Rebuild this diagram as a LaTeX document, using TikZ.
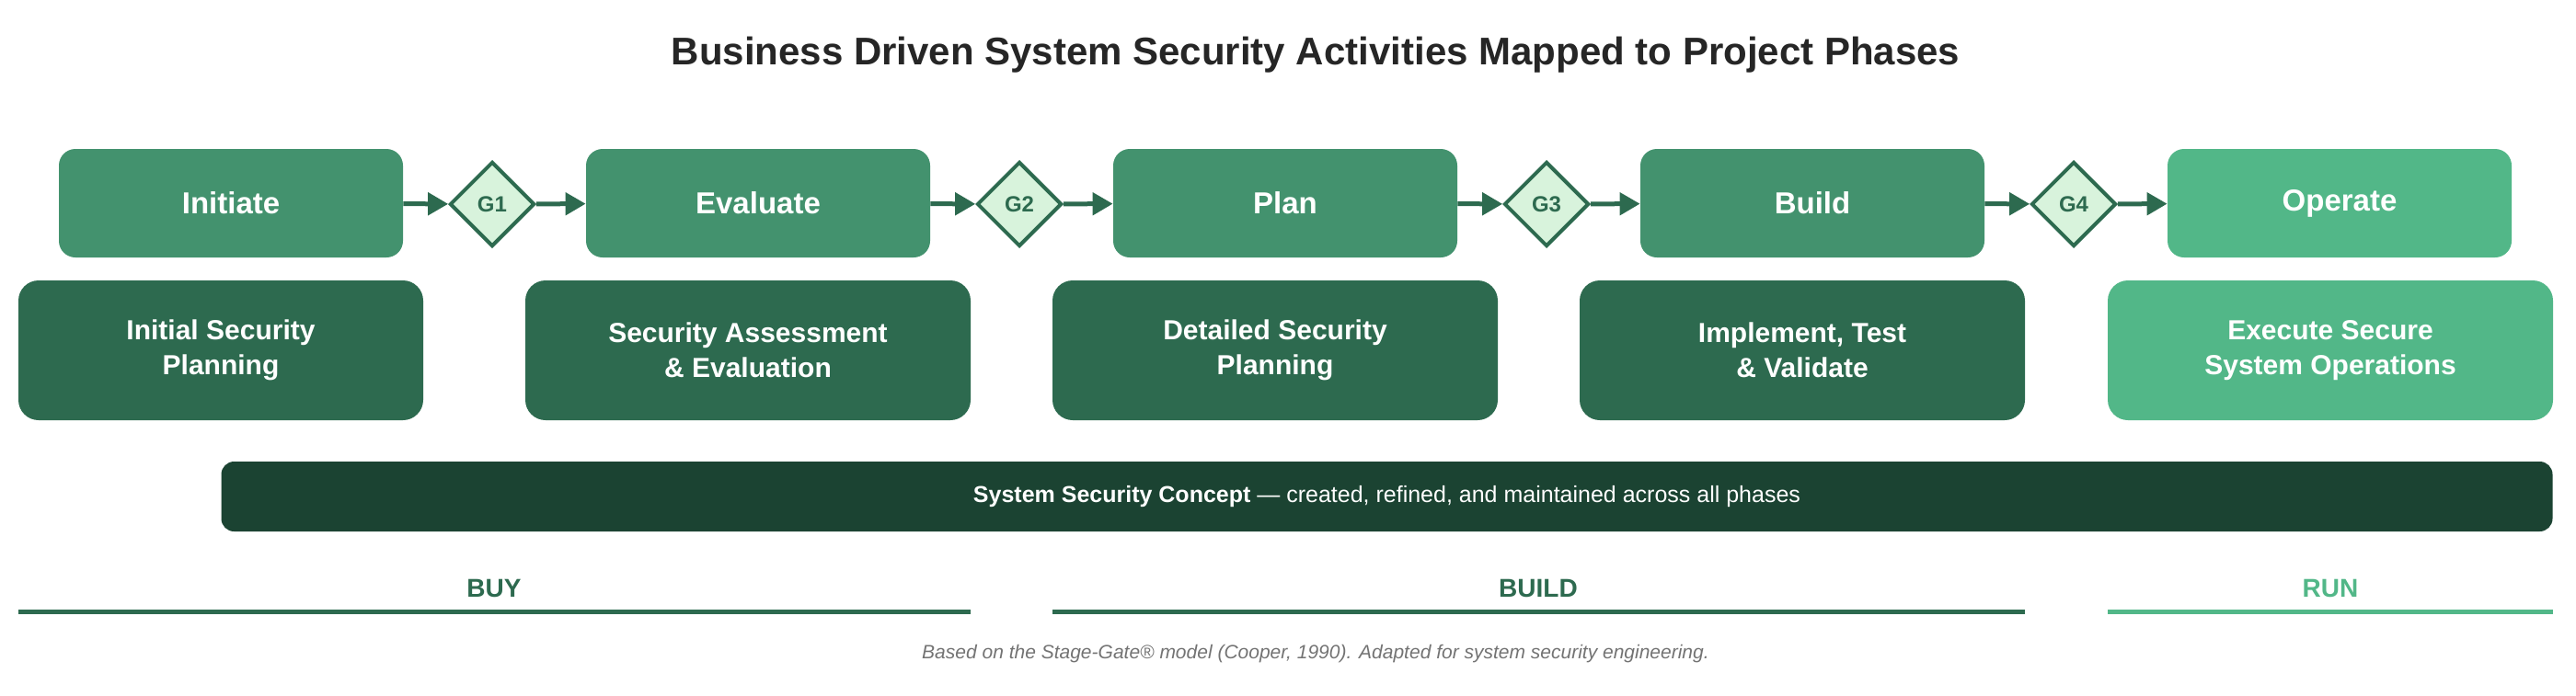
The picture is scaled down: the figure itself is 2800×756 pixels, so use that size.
\documentclass[tikz,border=0pt]{standalone}
\usepackage{fontspec}
\setmainfont{Liberation Sans}
\usetikzlibrary{shapes.geometric, arrows.meta, positioning}
\definecolor{phase}{HTML}{43926E}
\definecolor{light}{HTML}{52B788}
\definecolor{dark}{HTML}{2D6A4F}
\definecolor{deep}{HTML}{1B4332}
\definecolor{gatefill}{HTML}{D8F3DC}
\tikzstyle{phase} = [rectangle, rounded corners=9pt, fill=phase, text=white, font=\fontsize{16.5}{20}\selectfont\bfseries, minimum width=187pt, minimum height=59pt]
\tikzstyle{activity} = [rectangle, rounded corners=11pt, fill=dark, text=white, align=center, font=\fontsize{15}{19}\selectfont\bfseries, minimum width=242pt, minimum height=76pt]
\tikzstyle{gate} = [diamond, draw=dark, line width=2pt, fill=gatefill, text=dark, font=\fontsize{12}{14}\selectfont\bfseries, minimum size=46pt, inner sep=0pt]
\tikzstyle{flow} = [-{Triangle[length=11pt,width=12pt]}, draw=dark, line width=2.5pt]
\tikzstyle{era} = [font=\fontsize{14}{16}\selectfont\bfseries]

\begin{document}
\begin{tikzpicture}[x=0.5pt, y=-0.5pt]
  \useasboundingbox (0,0) rectangle (2800,756);

  % title
  \node[font=\fontsize{21}{24}\selectfont\bfseries, text=black!85] (title) at (1430,60) {Business Driven System Security Activities Mapped to Project Phases};

  % phases
  \node[phase] (p1) at (251,221) {Initiate};
  \node[phase] (p2) at (824,221) {Evaluate};
  \node[phase] (p3) at (1397,221) {Plan};
  \node[phase] (p4) at (1970,221) {Build};
  \node[phase, fill=light] (p5) at (2543,221) {Operate};

  % gates
  \node[gate] (g1) at (535,222) {G1};
  \node[gate] (g2) at (1108,222) {G2};
  \node[gate] (g3) at (1681,222) {G3};
  \node[gate] (g4) at (2254,222) {G4};

  % activities
  \node[activity, minimum width=220pt] (a1) at (240,381) {Initial Security\\Planning};
  \node[activity] (a2) at (813,381) {Security Assessment\\\& Evaluation};
  \node[activity] (a3) at (1386,381) {Detailed Security\\Planning};
  \node[activity] (a4) at (1959,381) {Implement, Test\\\& Validate};
  \node[activity, fill=light] (a5) at (2533,381) {Execute Secure\\System Operations};

  % concept bar
  \node[rectangle, rounded corners=7pt, fill=deep, text=white, font=\fontsize{12.5}{15}\selectfont, minimum width=1267pt, minimum height=38pt] (concept) at (1507.5,540) {\textbf{System Security Concept} --- created, refined, and maintained across all phases};

  % eras
  \node[era, text=dark] (buy) at (537,640) {BUY};
  \node[era, text=dark] (build) at (1672,640) {BUILD};
  \node[era, text=light] (run) at (2533,640) {RUN};
  \draw[dark, line width=2.5pt] (20,665) -- (1055,665);
  \draw[dark, line width=2.5pt] (1144,665) -- (2201,665);
  \draw[light, line width=2.5pt] (2291,665) -- (2775,665);

  % note
  \node[font=\fontsize{10.5}{12}\selectfont\itshape, text=black!55] (note) at (1430,711) {Based on the Stage-Gate® model (Cooper, 1990). Adapted for system security engineering.};

  % flow
  \draw[flow] (p1) -- (g1);
  \draw[flow] (g1) -- (p2);
  \draw[flow] (p2) -- (g2);
  \draw[flow] (g2) -- (p3);
  \draw[flow] (p3) -- (g3);
  \draw[flow] (g3) -- (p4);
  \draw[flow] (p4) -- (g4);
  \draw[flow] (g4) -- (p5);
\end{tikzpicture}
\end{document}
